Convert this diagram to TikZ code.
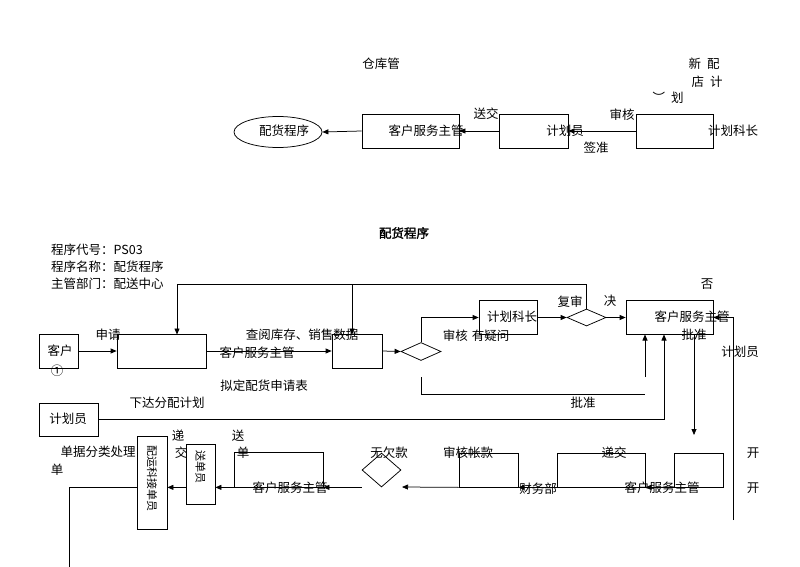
\documentclass[tikz,border=0pt]{standalone}
\usepackage{fontspec}
\setmainfont{Noto Sans CJK SC}
\newfontfamily\cjkb[FakeBold=2]{Noto Sans CJK SC}
\usetikzlibrary{shapes.geometric,arrows.meta,calc}
\begin{document}
\begin{tikzpicture}[x=1pt,y=-1pt,
  box/.style={draw, line width=0.75pt, inner sep=0pt},
  dia/.style={draw, diamond, line width=0.75pt, inner sep=0pt},
  ln/.style={line width=0.75pt},
  arr/.style={line width=0.75pt, -{Triangle[length=6pt,width=5pt]}},
  lbl/.style={inner sep=0pt, font=\fontsize{12.5pt}{14pt}\selectfont}]
\useasboundingbox (0,0) rectangle (800,567);

% ---------------- top section ----------------
\node[draw, ellipse, line width=0.75pt, minimum width=88pt, minimum height=31pt, inner sep=0pt] (ell) at (278,132) {};
\node[lbl] (ellt) at (284,131) {配货程序};
\node[box, minimum width=97pt, minimum height=34pt] (t1) at (410.5,131) {};
\node[lbl] (t1t) at (426,131) {客户服务主管};
\node[box, minimum width=69pt, minimum height=34pt] (t2) at (533.5,131) {};
\node[lbl] (t2t) at (565,131) {计划员};
\node[box, minimum width=77pt, minimum height=34pt] (t3) at (674.5,131) {};
\node[lbl] (t3t) at (733,131) {计划科长};
\draw[arr] (t1.west) -- (ell.east);
\draw[arr] (t2.west) -- (t1.east);
\draw[arr] (t3.west) -- (t2.east);
\node[lbl] (l1) at (381,64) {仓库管};
\node[lbl] (l2) at (486,114) {送交};
\node[lbl] (l3) at (622,115) {审核};
\node[lbl] (l4) at (596,148) {签准};
\node[lbl] (l5) at (704,64) {新\hspace{6pt}配};
\node[lbl] (l6) at (707,82) {店\hspace{6pt}计};
\node[lbl] (l7) at (668,98) {︶\hspace{6pt}划};

% ---------------- bottom section ----------------
\node[lbl, font=\fontsize{12.5pt}{14pt}\selectfont\cjkb] (title) at (404,233) {配货程序};
\node[lbl, anchor=west] (i1) at (51,250) {程序代号：PS03};
\node[lbl, anchor=west] (i2) at (51,267) {程序名称：配货程序};
\node[lbl, anchor=west] (i3) at (51,284) {主管部门：配送中心};

% upper row boxes
\node[box, minimum width=39pt, minimum height=34pt] (kh) at (58.5,351) {};
\node[lbl] (kht) at (60,351) {客户};
\node[lbl] (khc) at (57,371) {①};
\node[box, minimum width=89pt, minimum height=34pt] (a1) at (161.5,351) {};
\node[box, minimum width=50pt, minimum height=34pt] (a2) at (357,351) {};
\node[dia, minimum width=40pt, minimum height=18pt] (d1) at (421,351.5) {};
\node[box, minimum width=58pt, minimum height=34pt] (jk) at (508,317.5) {};
\node[lbl] (jkt) at (512,317) {计划科长};
\node[dia, minimum width=39pt, minimum height=17pt] (d2) at (586.5,317.5) {};
\node[box, minimum width=87pt, minimum height=34pt] (kf) at (669.5,317.5) {};
\node[lbl] (kft) at (692,317) {客户服务主管};
\node[box, minimum width=59pt, minimum height=33pt] (jh) at (68.5,419.5) {};
\node[lbl] (jht) at (68,419) {计划员};

\coordinate (a1n) at (177,334.5);
\coordinate (a2n) at (352,334.5);
\coordinate (topy) at (0,284);
\draw[arr] (d2.north) |- (a1n |- topy) -- (a1n);
\draw[arr] (a2n |- topy) -- (a2n);
\draw[arr] (kh.east) -- (a1.west);
\draw[arr] (a1.east) -- (a2.west);
\draw[arr] (a2.east) -- (d1.west);
\draw[arr] (d1.north) |- (jk.west);
\draw[arr] (jk.east) -- (d2.west);
\draw[arr] (d2.east) -- (kf.west);

\coordinate (k1) at (645,334.5);
\coordinate (k2) at (664,334.5);
\coordinate (k3) at (694,334.5);
\coordinate (k4) at (733,317.5);
\draw[ln] (421,377) -- (421,394) -- (645,394);
\draw[arr] (645,377) -- (k1);
\draw[arr] (jh.east) -| (k2);
\draw[arr] (k3) -- (694,435);
\draw[arr] (733,520) -- (k4) -- (kf.east);

\node[lbl] (s1) at (108,335) {申请};
\node[lbl] (s2) at (302,335) {查阅库存、销售数据};
\node[lbl] (s3) at (257,353) {客户服务主管};
\node[lbl] (s4) at (264,386) {拟定配货申请表};
\node[lbl] (s5) at (476,336) {审核\hspace{4pt}有疑问};
\node[lbl] (s6) at (570,302) {复审};
\node[lbl] (s7) at (610,301) {决};
\node[lbl] (s8) at (707,284) {否};
\node[lbl] (s9) at (694,335) {批准};
\node[lbl] (s10) at (740,352) {计划员};
\node[lbl] (s11) at (583,403) {批准};
\node[lbl] (s12) at (167,403) {下达分配计划};

% lower row
\node[lbl] (u1) at (98,452) {单据分类处理};
\node[lbl] (u2) at (57,470) {单};
\node[lbl] (u3) at (178,436) {递};
\node[lbl] (u4) at (181,453) {交};
\node[lbl] (u5) at (238,436) {送};
\node[lbl] (u6) at (243,453) {单};
\node[lbl] (u7) at (389,453) {无欠款};
\node[lbl] (u8) at (468,453) {审核帐款};
\node[lbl] (u9) at (614,453) {递交};
\node[lbl] (u10) at (753,453) {开};
\node[lbl] (u11) at (753,488) {开};

\node[box, fill=white, minimum width=30pt, minimum height=93pt] (py) at (152,482.5) {};
\node[lbl, rotate=-90, font=\fontsize{11pt}{12pt}\selectfont] (pyt) at (152,478) {配运科接单员};
\node[box, fill=white, minimum width=29pt, minimum height=60pt] (sd) at (200.5,474) {};
\node[lbl, rotate=-90, font=\fontsize{11pt}{12pt}\selectfont] (sdt) at (200.5,467) {送单员};
\node[box, minimum width=89pt, minimum height=35pt] (r4) at (278.5,469.5) {};
\node[dia, minimum width=39pt, minimum height=34pt] (d3) at (381.5,470) {};
\node[box, minimum width=59pt, minimum height=34pt] (r3) at (488.5,470) {};
\node[box, minimum width=88pt, minimum height=34pt] (r2) at (601,470) {};
\node[box, minimum width=49pt, minimum height=34pt] (r1) at (698.5,470) {};

\coordinate (m1) at (402,487);
\coordinate (m2) at (69,567);
\draw[arr] (r1.south west) -- (r2.south east);
\draw[arr] (r2.south west) -- (r3.south east);
\draw[arr] (r3.south west) -- (m1);
\draw[arr] (d3.west |- d3.south) -- (r4.south east);
\draw[arr] (r4.south west) -- (sd.east |- r4.south west);
\draw[arr] (sd.west |- r4.south west) -- (py.east |- r4.south west);
\draw[ln] (py.west |- r4.south west) -| (m2);

\node[lbl] (u12) at (290,488) {客户服务主管};
\node[lbl] (u13) at (538,489) {财务部};
\node[lbl] (u14) at (662,488) {客户服务主管};
\end{tikzpicture}
\end{document}
